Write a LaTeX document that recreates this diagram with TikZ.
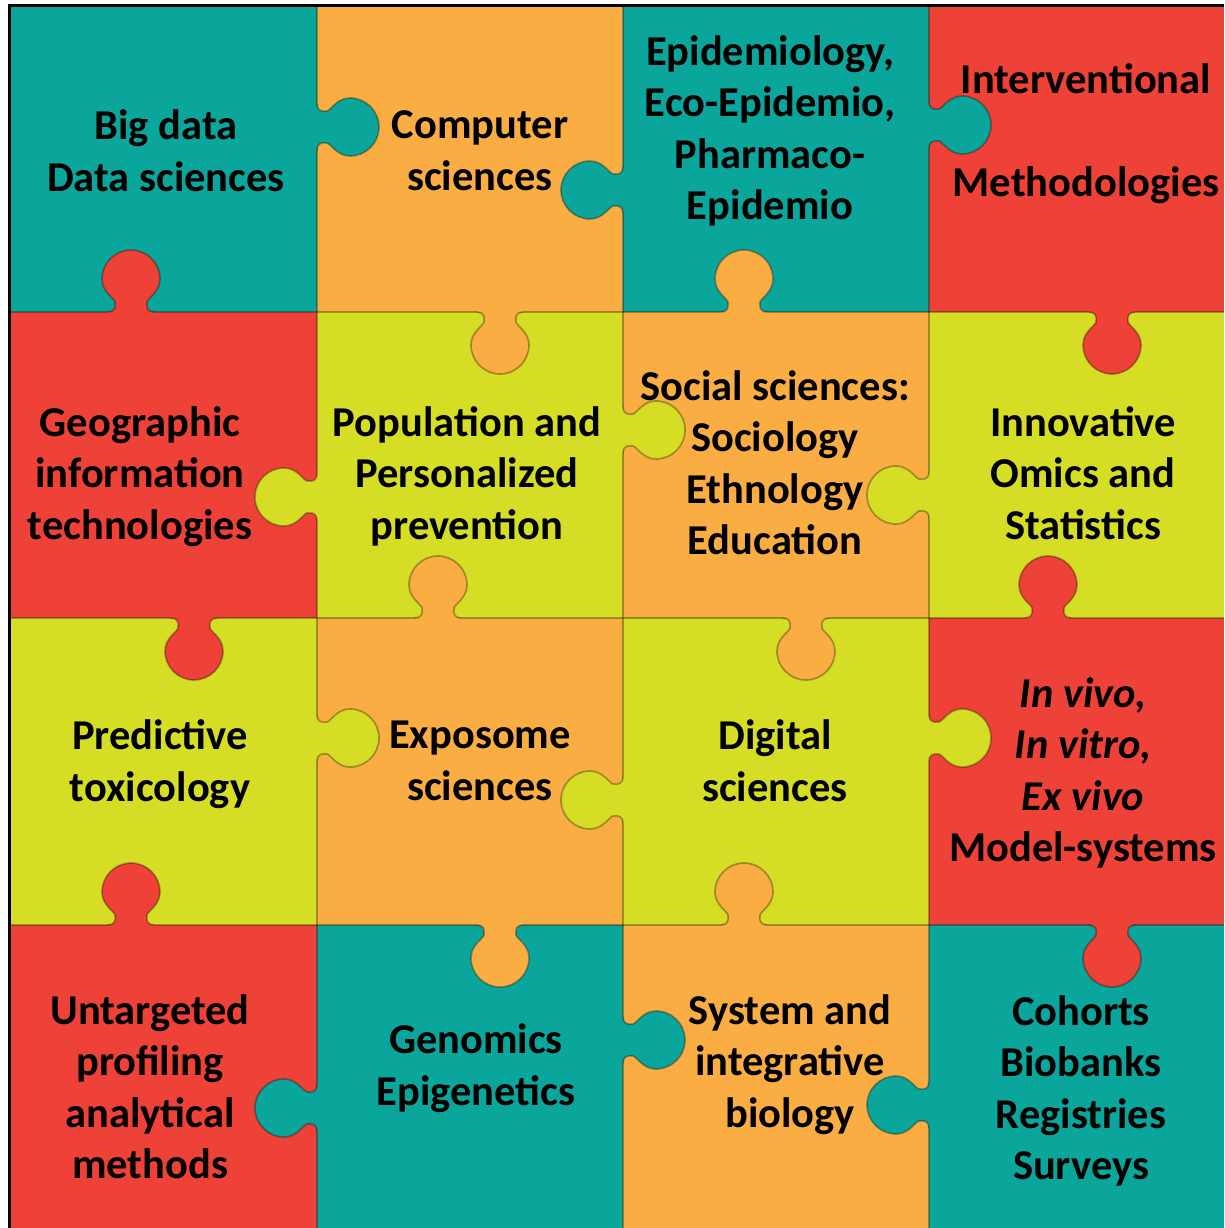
\documentclass[tikz,border=0pt]{standalone}
\usepackage{fontspec}
\setmainfont{Carlito}
\definecolor{pteal}{HTML}{0AA69B}
\definecolor{porange}{HTML}{F9AD42}
\definecolor{pred}{HTML}{EE4238}
\definecolor{pyel}{HTML}{D5DE25}
\newcommand\knobpath{(-23,0) .. controls (-17,0) and (-15,4) .. (-16,10)
  .. controls (-17,14) and (-29,20) .. (-29,33)
  .. controls (-29,49) and (-16,62) .. (0,62)
  .. controls (16,62) and (29,49) .. (29,33)
  .. controls (29,20) and (17,14) .. (16,10)
  .. controls (15,4) and (17,0) .. (23,0)}
\newcommand\knob[4]{%
  \fill[#4, shift={(#1,#2)}, rotate=#3] (-23,-2.5) -- \knobpath -- (23,-2.5) -- cycle;
  \draw[seam, shift={(#1,#2)}, rotate=#3] \knobpath;}
\begin{document}
\begin{tikzpicture}[x=1pt,y=-1pt,
  seam/.style={draw=black, draw opacity=0.3, line width=1.7pt},
  frame/.style={draw=black, line width=2.5pt},
  lbl/.style={font=\bfseries\fontsize{42.5}{51.5}\selectfont, align=center, inner sep=0pt,
    yshift=-8.5pt, execute at begin node=\strut, execute at end node=\strut}]
\useasboundingbox (0,0) rectangle (1224,1228);
\fill[white] (0,0) rectangle (1224,1228);
% row 1
\fill[pteal]   (10,6) rectangle (317,312);
\fill[porange] (317,6) rectangle (623,312);
\fill[pteal]   (623,6) rectangle (929,312);
\fill[pred]    (929,6) rectangle (1224,312);
% row 2
\fill[pred]    (10,312) rectangle (317,618);
\fill[pyel]    (317,312) rectangle (623,618);
\fill[porange] (623,312) rectangle (929,618);
\fill[pyel]    (929,312) rectangle (1224,618);
% row 3
\fill[pyel]    (10,618) rectangle (317,925);
\fill[porange] (317,618) rectangle (623,925);
\fill[pyel]    (623,618) rectangle (929,925);
\fill[pred]    (929,618) rectangle (1224,925);
% row 4
\fill[pred]    (10,925) rectangle (317,1228);
\fill[pteal]   (317,925) rectangle (623,1228);
\fill[porange] (623,925) rectangle (929,1228);
\fill[pteal]   (929,925) rectangle (1224,1228);
% seams
\draw[seam] (317,6) -- (317,1228);
\draw[seam] (623,6) -- (623,1228);
\draw[seam] (929,6) -- (929,1228);
\draw[seam] (10,312) -- (1224,312);
\draw[seam] (10,618) -- (1224,618);
\draw[seam] (10,925) -- (1224,925);
% knobs on vertical seams
\knob{317}{127}{90}{pteal}
\knob{623}{190}{-90}{pteal}
\knob{929}{125}{90}{pteal}
\knob{317}{497}{-90}{pyel}
\knob{623}{430}{90}{pyel}
\knob{929}{495}{-90}{pyel}
\knob{317}{738}{90}{pyel}
\knob{623}{800}{-90}{pyel}
\knob{929}{738}{90}{pyel}
\knob{317}{1108}{-90}{pteal}
\knob{623}{1040}{90}{pteal}
\knob{929}{1105}{-90}{pteal}
% knobs on horizontal seams
\knob{131}{312}{180}{pred}
\knob{500}{312}{0}{porange}
\knob{744}{312}{180}{porange}
\knob{1112}{312}{0}{pred}
\knob{194}{618}{0}{pred}
\knob{438}{618}{180}{porange}
\knob{806}{618}{0}{porange}
\knob{1048}{618}{180}{pred}
\knob{131}{925}{180}{pred}
\knob{500}{925}{0}{porange}
\knob{744}{925}{180}{porange}
\knob{1112}{925}{0}{pred}
% frame
\draw[frame] (9.5,1228) -- (9.5,5.5) -- (1224,5.5);
% labels
\node[lbl] (c11) at (166,150) {Big data\\Data sciences};
\node[lbl] (c12) at (480,150) {Computer\\sciences};
\node[lbl] (c13) at (770,127) {Epidemiology,\\Eco-Epidemio,\\Pharmaco-\\Epidemio};
\node[lbl] (c14) at (1086,129) {Interventional\\\mbox{}\\Methodologies};
\node[lbl] (c21) at (140,472) {Geographic\\information\\technologies};
\node[lbl] (c22) at (467,472) {Population and\\Personalized\\prevention};
\node[lbl] (c23) at (775,462) {Social sciences:\\Sociology\\Ethnology\\Education};
\node[lbl] (c24) at (1083,472) {Innovative\\Omics and\\Statistics};
\node[lbl] (c31) at (160,760) {Predictive\\toxicology};
\node[lbl] (c32) at (480,760) {Exposome\\sciences};
\node[lbl] (c33) at (775,760) {Digital\\sciences};
\node[lbl] (c34) at (1083,769) {\itshape In vivo,\\\itshape In vitro,\\\itshape Ex vivo\\Model-systems};
\node[lbl] (c41) at (150,1086) {Untargeted\\profiling\\analytical\\methods};
\node[lbl] (c42) at (476,1064) {Genomics\\Epigenetics};
\node[lbl] (c43) at (790,1060) {System and\\integrative\\biology};
\node[lbl] (c44) at (1081,1087) {Cohorts\\Biobanks\\Registries\\Surveys};
\end{tikzpicture}
\end{document}
